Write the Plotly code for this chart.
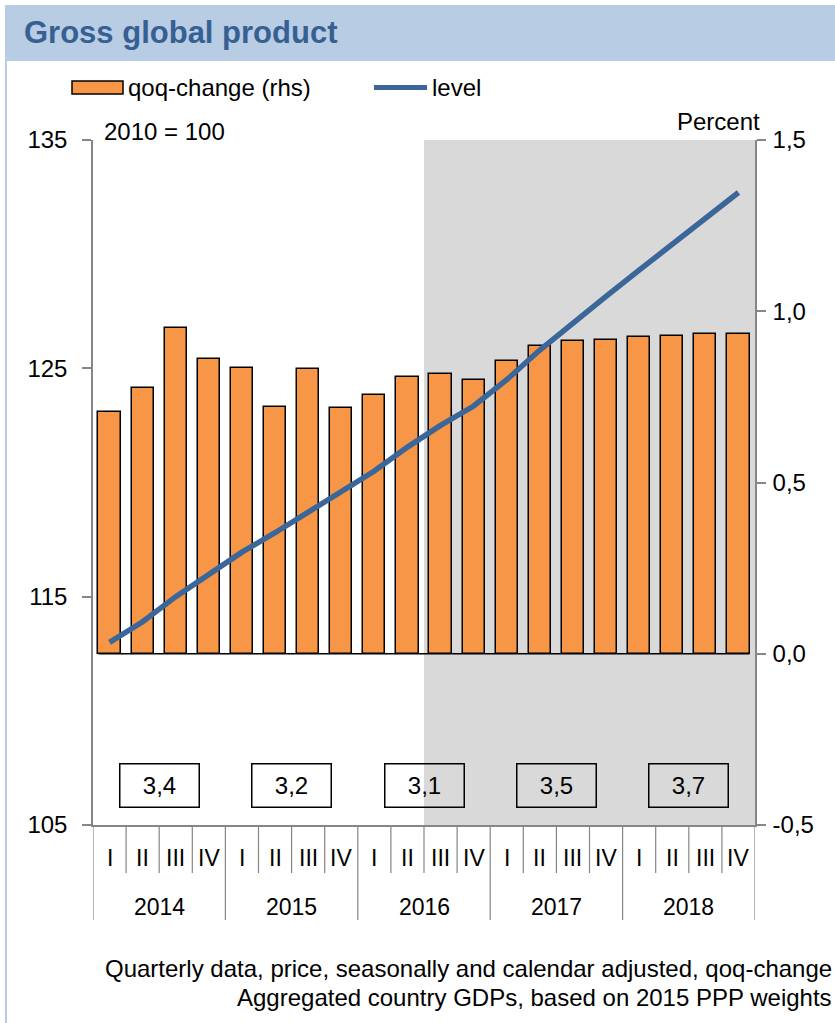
import plotly.graph_objects as go

# ---- data -------------------------------------------------------------
years = ["2014", "2015", "2016", "2017", "2018"]
quarters = ["I", "II", "III", "IV"]
qoq_change = [0.705, 0.775, 0.950, 0.860, 0.834, 0.720, 0.831, 0.718, 0.755, 0.808,
              0.818, 0.798, 0.855, 0.898, 0.912, 0.917, 0.924, 0.929, 0.933, 0.933]
level = [113.0, 113.9, 115.0, 116.0, 116.95, 117.8, 118.7, 119.55, 120.5, 121.55,
         122.5, 123.35, 124.5, 125.8, 127.0, 128.15, 129.3, 130.45, 131.6, 132.7]
annual_growth = ["3,4", "3,2", "3,1", "3,5", "3,7"]
left_ticks = [105, 115, 125, 135]
left_ticktext = ["105", "115", "125", "135"]
right_ticks = [-0.5, 0.0, 0.5, 1.0, 1.5]
right_ticktext = ["-0,5", "0,0", "0,5", "1,0", "1,5"]
forecast_start = 10  # first quarter of the shaded (forecast) period: 2016 III

# ---- styling ----------------------------------------------------------
W, H = 835, 1023
FONT = "Liberation Sans, Arial, sans-serif"
BAR_COLOR = "#F79646"
LINE_COLOR = "#3B6699"
AXIS_GRAY = "#868686"
SHADE = "#D9D9D9"
TITLE_BG = "#B8CCE4"
TITLE_FG = "#376092"
BAR_W = 0.67

def px(x):
    return x / W

def py(y):
    return 1 - y / H

plot_left, plot_right = 93, 755
plot_top, plot_bottom = 140, 825

n = len(qoq_change)
idx = list(range(n))

fig = go.Figure()
fig.add_bar(x=idx, y=qoq_change, yaxis="y", width=BAR_W,
            marker=dict(color=BAR_COLOR, line=dict(color="black", width=1.5)),
            name="qoq-change (rhs)")
fig.add_scatter(x=idx, y=level, yaxis="y2", mode="lines",
                line=dict(color=LINE_COLOR, width=5.5), name="level")

shapes = []
annotations = []

# title band and frame
shapes.append(dict(type="rect", xref="paper", yref="paper", x0=px(5), x1=px(W + 5),
                   y0=py(60), y1=py(5), fillcolor=TITLE_BG, line=dict(width=0), layer="below"))
shapes.append(dict(type="rect", xref="paper", yref="paper", x0=px(6), x1=px(W + 10),
                   y0=py(H + 10), y1=py(60), line=dict(color=TITLE_BG, width=2),
                   fillcolor="rgba(0,0,0,0)"))
annotations.append(dict(text="<b>Gross global product</b>", xref="paper", yref="paper",
                        x=px(22), y=py(33), xanchor="left", yanchor="middle", showarrow=False,
                        font=dict(family=FONT, size=31, color=TITLE_FG)))

# shaded forecast period
shapes.append(dict(type="rect", xref="x", yref="y domain", x0=forecast_start - 0.5, x1=n - 0.5,
                   y0=0, y1=1, fillcolor=SHADE, line=dict(width=0), layer="below"))

# baseline under the bars
shapes.append(dict(type="line", xref="x", yref="y", x0=-BAR_W / 2, x1=n - 1 + BAR_W / 2,
                   y0=0, y1=0, line=dict(color="black", width=1.5)))

# category separators below the axis
q_sep_bottom = py(873)
y_sep_bottom = py(920)
for k in range(n + 1):
    is_year = (k % 4 == 0)
    shapes.append(dict(type="line", xref="x", yref="paper", x0=k - 0.5, x1=k - 0.5,
                       y0=py(plot_bottom), y1=y_sep_bottom if is_year else q_sep_bottom,
                       line=dict(color=AXIS_GRAY, width=1.2)))

# quarter and year labels
for i in idx:
    annotations.append(dict(text=quarters[i % 4], xref="x", yref="paper", x=i, y=py(858),
                            xanchor="center", yanchor="middle", showarrow=False,
                            font=dict(family=FONT, size=23, color="black")))
for j, yr in enumerate(years):
    annotations.append(dict(text=yr, xref="x", yref="paper", x=4 * j + 1.5, y=py(907),
                            xanchor="center", yanchor="middle", showarrow=False,
                            font=dict(family=FONT, size=23, color="black")))

# annual growth boxes
for j, g in enumerate(annual_growth):
    annotations.append(dict(text=g, xref="x", yref="paper", x=4 * j + 1.5, y=py(785),
                            xanchor="center", yanchor="middle", showarrow=False,
                            width=74, height=38, borderpad=2, bordercolor="black",
                            borderwidth=1.5,
                            font=dict(family=FONT, size=24, color="black")))

# axis captions
annotations.append(dict(text="2010 = 100", xref="paper", yref="paper", x=px(102), y=py(131),
                        xanchor="left", yanchor="middle", showarrow=False,
                        font=dict(family=FONT, size=24, color="black")))
annotations.append(dict(text="Percent", xref="paper", yref="paper", x=px(762), y=py(121),
                        xanchor="right", yanchor="middle", showarrow=False,
                        font=dict(family=FONT, size=24, color="black")))

# legend
shapes.append(dict(type="rect", xref="paper", yref="paper", x0=px(72), x1=px(123),
                   y0=py(94), y1=py(81), fillcolor=BAR_COLOR, line=dict(color="black", width=1.5)))
annotations.append(dict(text="qoq-change (rhs)", xref="paper", yref="paper", x=px(126), y=py(87),
                        xanchor="left", yanchor="middle", showarrow=False,
                        font=dict(family=FONT, size=24, color="black")))
shapes.append(dict(type="line", xref="paper", yref="paper", x0=px(374), x1=px(427),
                   y0=py(87.5), y1=py(87.5), line=dict(color=LINE_COLOR, width=5)))
annotations.append(dict(text="level", xref="paper", yref="paper", x=px(430), y=py(87),
                        xanchor="left", yanchor="middle", showarrow=False,
                        font=dict(family=FONT, size=24, color="black")))

# footnote
annotations.append(dict(text="Quarterly data, price, seasonally and calendar adjusted, qoq-change",
                        xref="paper", yref="paper", x=px(834), y=py(968),
                        xanchor="right", yanchor="middle", showarrow=False,
                        font=dict(family=FONT, size=24, color="black")))
annotations.append(dict(text="Aggregated country GDPs, based on 2015 PPP weights",
                        xref="paper", yref="paper", x=px(834), y=py(997),
                        xanchor="right", yanchor="middle", showarrow=False,
                        font=dict(family=FONT, size=24, color="black")))

domain_y = [py(plot_bottom), py(plot_top)]

fig.update_layout(
    width=W, height=H,
    margin=dict(l=0, r=0, t=0, b=0, autoexpand=False),
    paper_bgcolor="white", plot_bgcolor="white",
    showlegend=False,
    bargap=0,
    font=dict(family=FONT, size=24, color="black"),
    xaxis=dict(domain=[px(plot_left), px(plot_right)], range=[-0.5, n - 0.5],
               showticklabels=False, ticks="", showgrid=False, zeroline=False,
               showline=True, linecolor=AXIS_GRAY, linewidth=1.5, fixedrange=True),
    yaxis=dict(domain=domain_y, side="right", range=[-0.5, 1.5], tickvals=right_ticks,
               ticktext=right_ticktext, ticks="outside", ticklen=9, tickcolor=AXIS_GRAY,
               tickwidth=1.5, showline=True, linecolor=AXIS_GRAY, linewidth=1.5,
               showgrid=False, zeroline=False, ticklabelstandoff=2,
               tickfont=dict(family=FONT, size=24, color="black")),
    yaxis2=dict(domain=domain_y, side="left", overlaying="y", anchor="x", range=[105, 135],
                tickvals=left_ticks, ticktext=left_ticktext, ticks="outside", ticklen=9,
                tickcolor=AXIS_GRAY, tickwidth=1.5, showline=True, linecolor=AXIS_GRAY,
                linewidth=1.5, showgrid=False, zeroline=False, ticklabelstandoff=10,
                tickfont=dict(family=FONT, size=24, color="black")),
    shapes=shapes,
    annotations=annotations,
)

fig.write_html("out.html")
